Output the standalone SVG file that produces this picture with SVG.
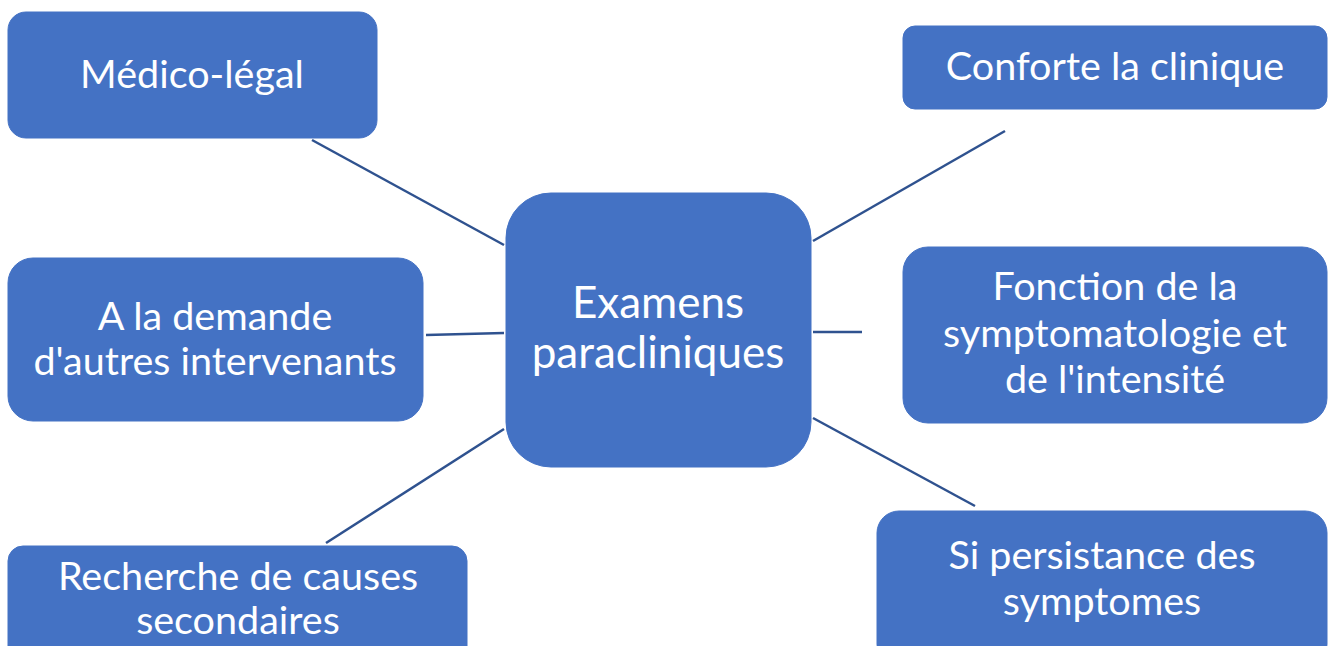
<svg xmlns="http://www.w3.org/2000/svg" width="1330" height="646" viewBox="0 0 1330 646">
<style>
.n{fill:#4472C4;stroke:#4472C4;stroke-width:1}
.t{fill:#fff;font-family:Lato,"Open Sans",sans-serif;font-size:39.5px;text-anchor:middle}
.c{font-size:44px}
.e{stroke:#2F528F;stroke-width:2.5;fill:none}
</style>
<rect width="1330" height="646" fill="#fff"/>
<g id="connectors">
<line class="e" x1="312" y1="140" x2="504" y2="245"/>
<line class="e" x1="813" y1="241" x2="1005" y2="131"/>
<line class="e" x1="426" y1="335" x2="504" y2="333"/>
<line class="e" x1="813" y1="332" x2="862" y2="332"/>
<line class="e" x1="326" y1="543" x2="504" y2="429"/>
<line class="e" x1="813" y1="418" x2="975" y2="506"/>
</g>
<g id="center"><rect class="n" x="506" y="193" width="305" height="274" rx="45"/>
<text class="t c" x="658" y="318">Examens</text><text class="t c" x="658" y="368">paracliniques</text></g>
<g id="medico"><rect class="n" x="8" y="12" width="369" height="126" rx="18"/>
<text class="t" x="192" y="88">Médico-légal</text></g>
<g id="conforte"><rect class="n" x="903" y="26" width="424" height="83" rx="12"/>
<text class="t" x="1115" y="80">Conforte la clinique</text></g>
<g id="demande"><rect class="n" x="8" y="258" width="415" height="163" rx="25"/>
<text class="t" x="215" y="330">A la demande</text><text class="t" x="215" y="375">d'autres intervenants</text></g>
<g id="fonction"><rect class="n" x="903" y="247" width="424" height="176" rx="25"/>
<text class="t" x="1115" y="300">Fonction de la</text><text class="t" x="1115" y="347">symptomatologie et</text><text class="t" x="1115" y="393">de l'intensité</text></g>
<g id="recherche"><rect class="n" x="8" y="546" width="459" height="120" rx="15"/>
<text class="t" x="238" y="590">Recherche de causes</text><text class="t" x="238" y="634">secondaires</text></g>
<g id="persistance"><rect class="n" x="877" y="511" width="450" height="155" rx="22"/>
<text class="t" x="1102" y="569">Si persistance des</text><text class="t" x="1102" y="615">symptomes</text></g>
</svg>
